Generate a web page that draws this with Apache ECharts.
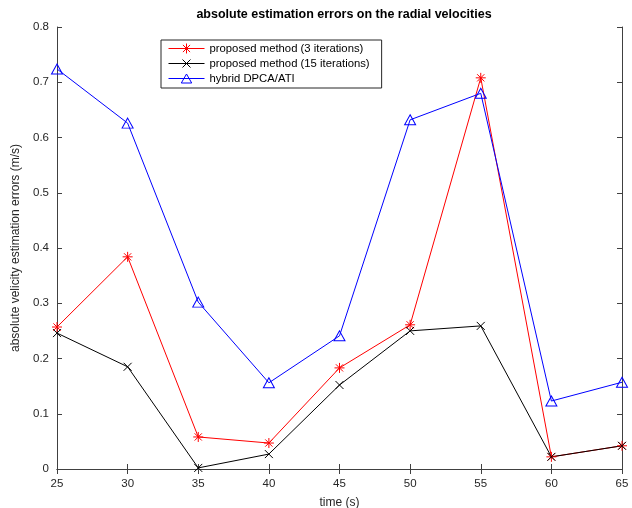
<!DOCTYPE html>
<html>
<head>
<meta charset="utf-8">
<script src="https://cdn.jsdelivr.net/npm/echarts@6/dist/echarts.min.js"></script>
<style>
  html, body { margin: 0; padding: 0; background: #fff; }
  #chart { width: 632px; height: 508px; }
</style>
</head>
<body>
<div id="chart"></div>
<script>
// time instants (s)
const times = [25, 30, 35, 40, 45, 50, 55, 60, 65];
// absolute radial velocity estimation errors (m/s)
const proposed3 = [0.257, 0.384, 0.058, 0.047, 0.183, 0.261, 0.708, 0.022, 0.042];
const proposed15 = [0.246, 0.185, 0.002, 0.027, 0.152, 0.250, 0.259, 0.022, 0.042];
const hybridDPCA = [0.724, 0.626, 0.302, 0.156, 0.241, 0.632, 0.680, 0.123, 0.157];
const seriesNames = ['proposed method (3 iterations)', 'proposed method (15 iterations)', 'hybrid DPCA/ATI'];
const seriesColors = ['#ff0000', '#000000', '#0000ff'];

const FONT = 'Liberation Sans, Arial, Helvetica, sans-serif';
const AXIS_COLOR = '#404040';

// plot markers
const asterisk = 'path://M0,-5L0,5M-5,0L5,0M-3.6,-3.6L3.6,3.6M-3.6,3.6L3.6,-3.6';
const cross = 'path://M-5,-5L5,5M-5,5L5,-5';
const triangle = 'path://M0,-5L5.2,4L-5.2,4Z';

// legend keys: a short line with the marker in its middle (36 x 10 box)
const FRAME = 'M0,0L0,0M36,10L36,10';
const legendIcons = [
  'path://' + FRAME + 'M0,5L36,5M18,0L18,10M13,5L23,5M14.4,1.4L21.6,8.6M14.4,8.6L21.6,1.4',
  'path://' + FRAME + 'M0,5L36,5M14,1L22,9M14,9L22,1',
  'path://' + FRAME + 'M0,5L36,5M18,0.5L23.2,9.5L12.8,9.5Z'
];

function pairs(vals) { return times.map((t, i) => [t, vals[i]]); }

function lineSeries(name, vals, color, symbol, size) {
  return {
    name: name,
    type: 'line',
    data: pairs(vals),
    symbol: symbol,
    symbolSize: size,
    showAllSymbol: true,
    lineStyle: { color: color, width: 1 },
    itemStyle: { color: 'none', borderColor: color, borderWidth: 1 },
    emphasis: { disabled: true },
    animation: false,
    z: 3
  };
}

const legendItems = seriesNames.map((n, i) => ({
  name: n,
  icon: legendIcons[i],
  itemStyle: { color: 'none', borderColor: seriesColors[i], borderWidth: 1 }
}));

const chart = echarts.init(document.getElementById('chart'), null, { renderer: 'canvas' });
chart.setOption({
  backgroundColor: '#fff',
  animation: false,
  textStyle: { fontFamily: FONT },
  title: {
    text: 'absolute estimation errors on the radial velocities',
    left: 339, top: 3, textAlign: 'center',
    textStyle: { fontFamily: FONT, fontSize: 12.5, fontWeight: 'bold', color: '#000' }
  },
  legend: {
    orient: 'vertical',
    left: 161, top: 40,
    padding: [1, 12, 2, 5],
    itemGap: 0,
    itemWidth: 36, itemHeight: 10,
    borderColor: '#262626', borderWidth: 1,
    backgroundColor: '#fff',
    selectedMode: false,
    data: legendItems,
    textStyle: { fontFamily: FONT, fontSize: 11.3, color: '#000', padding: [0, 0, 0, 0] }
  },
  grid: { left: 57, right: 10, top: 27, bottom: 39, outerBoundsMode: 'none' },
  xAxis: [{
    type: 'value', min: 25, max: 65, interval: 5,
    name: 'time (s)', nameLocation: 'middle', nameGap: 28,
    nameTextStyle: { fontFamily: FONT, fontSize: 12, color: '#262626' },
    axisLine: { show: true, lineStyle: { color: AXIS_COLOR, width: 1 } },
    axisTick: { show: true, inside: true, length: 5, lineStyle: { color: AXIS_COLOR } },
    axisLabel: { fontFamily: FONT, fontSize: 11.5, color: '#262626', margin: 9 },
    splitLine: { show: false }
  }, {
    type: 'value', min: 25, max: 65, interval: 5, position: 'top',
    axisLine: { show: true, lineStyle: { color: AXIS_COLOR, width: 1 } },
    axisTick: { show: true, inside: true, length: 5, lineStyle: { color: AXIS_COLOR } },
    axisLabel: { show: false },
    splitLine: { show: false }
  }],
  yAxis: [{
    type: 'value', min: 0, max: 0.8, interval: 0.1,
    name: 'absolute velicity estimation errors (m/s)', nameLocation: 'middle', nameGap: 29,
    nameTextStyle: { fontFamily: FONT, fontSize: 12, color: '#262626' },
    axisLine: { show: true, lineStyle: { color: AXIS_COLOR, width: 1 } },
    axisTick: { show: true, inside: true, length: 5, lineStyle: { color: AXIS_COLOR } },
    axisLabel: { fontFamily: FONT, fontSize: 11.5, color: '#262626', margin: 8 },
    splitLine: { show: false }
  }, {
    type: 'value', min: 0, max: 0.8, interval: 0.1, position: 'right',
    axisLine: { show: true, lineStyle: { color: AXIS_COLOR, width: 1 } },
    axisTick: { show: true, inside: true, length: 5, lineStyle: { color: AXIS_COLOR } },
    axisLabel: { show: false },
    splitLine: { show: false }
  }],
  series: [
    lineSeries(seriesNames[0], proposed3, seriesColors[0], asterisk, 10),
    lineSeries(seriesNames[1], proposed15, seriesColors[1], cross, 8),
    lineSeries(seriesNames[2], hybridDPCA, seriesColors[2], triangle, [11, 10])
  ]
});
</script>
</body>
</html>
